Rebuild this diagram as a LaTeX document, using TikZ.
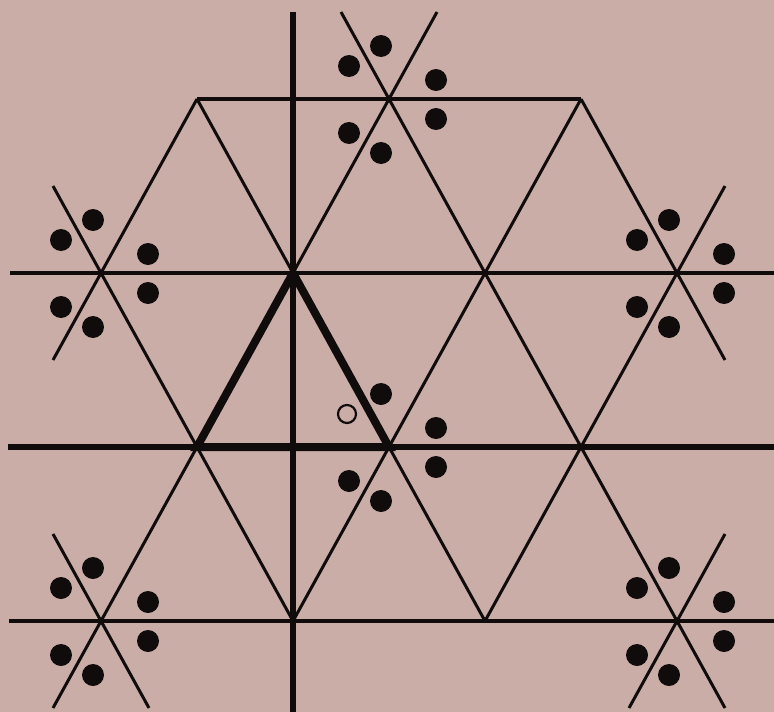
\documentclass[tikz,border=0pt]{standalone}
\usetikzlibrary{calc}
\definecolor{stone}{RGB}{203,173,168}
\definecolor{ink}{RGB}{16,12,12}
\tikzset{
  thinline/.style={draw=ink, line width=3pt},
  hline/.style={draw=ink, line width=3.2pt},
  axisline/.style={draw=ink, line width=5.5pt},
  boldline/.style={draw=ink, line width=6.5pt},
  tri/.style={draw=ink, line width=8pt, line join=miter},
  dot/.style={fill=ink},
  hollow/.style={draw=ink, line width=2.2pt},
}
\begin{document}
\begin{tikzpicture}[x=1pt,y=-1pt]
\useasboundingbox (0,0) rectangle (774,712);
\fill[stone] (0,0) rectangle (774,712);
% lattice points p<i><j>: x = 101+96 i, y = 99+174 j
\foreach \i in {0,...,6}{
  \foreach \j in {0,...,3}{
    \coordinate (p\i\j) at ({101+96*\i},{99+174*\j});
  }
}
% free ends
\coordinate (a1) at ($(p30)+(48,-87)$);
\coordinate (a2) at ($(p03)+(-48,87)$);
\coordinate (a3) at ($(p01)+(-48,87)$);
\coordinate (a4) at ($(p61)+(48,-87)$);
\coordinate (a5) at ($(p63)+(48,-87)$);
\coordinate (a6) at ($(p63)+(-48,87)$);
\coordinate (b1) at ($(p30)+(-48,-87)$);
\coordinate (b2) at ($(p63)+(48,87)$);
\coordinate (b3) at ($(p01)+(-48,-87)$);
\coordinate (b4) at ($(p61)+(48,87)$);
\coordinate (b5) at ($(p03)+(-48,-87)$);
\coordinate (b6) at ($(p03)+(48,87)$);
\coordinate (h1l) at (10,273);
\coordinate (h1r) at (774,273);
\coordinate (h2l) at (8,447);
\coordinate (h2r) at (774,447);
\coordinate (h3l) at (9,621);
\coordinate (h3r) at (774,621);
\coordinate (v1) at (293,12);
\coordinate (v2) at (293,712);
% rising diagonals
\draw[thinline] (a1) -- (a2);
\draw[thinline] (p50) -- (p23);
\draw[thinline] (p10) -- (a3);
\draw[thinline] (a4) -- (p43);
\draw[thinline] (a5) -- (a6);
% falling diagonals
\draw[thinline] (b1) -- (b2);
\draw[thinline] (p10) -- (p43);
\draw[thinline] (b3) -- (p23);
\draw[thinline] (p50) -- (b4);
\draw[thinline] (b5) -- (b6);
% horizontals
\draw[hline] (p10) -- (p50);
\draw[hline] (h1l) -- (h1r);
\draw[hline] (h3l) -- (h3r);
\draw[boldline] (h2l) -- (h2r);
% vertical axis
\draw[axisline] (v1) -- (v2);
% bold triangle
\draw[tri] (p21) -- (p12) -- (p32) -- cycle;
% dots
\foreach \c in {p30,p01,p61,p03,p63}{
  \foreach \dx/\dy in {-8/-53,-40/-33,47/-19,47/20,-40/34,-8/54}{
    \fill[dot] ($(\c)+(\dx,\dy)$) circle[radius=11pt];
  }
}
\foreach \dx/\dy in {-8/-53,47/-19,47/20,-40/34,-8/54}{
  \fill[dot] ($(p32)+(\dx,\dy)$) circle[radius=11pt];
}
\draw[hollow] ($(p32)+(-42,-33)$) circle[radius=9pt];
\end{tikzpicture}
\end{document}
